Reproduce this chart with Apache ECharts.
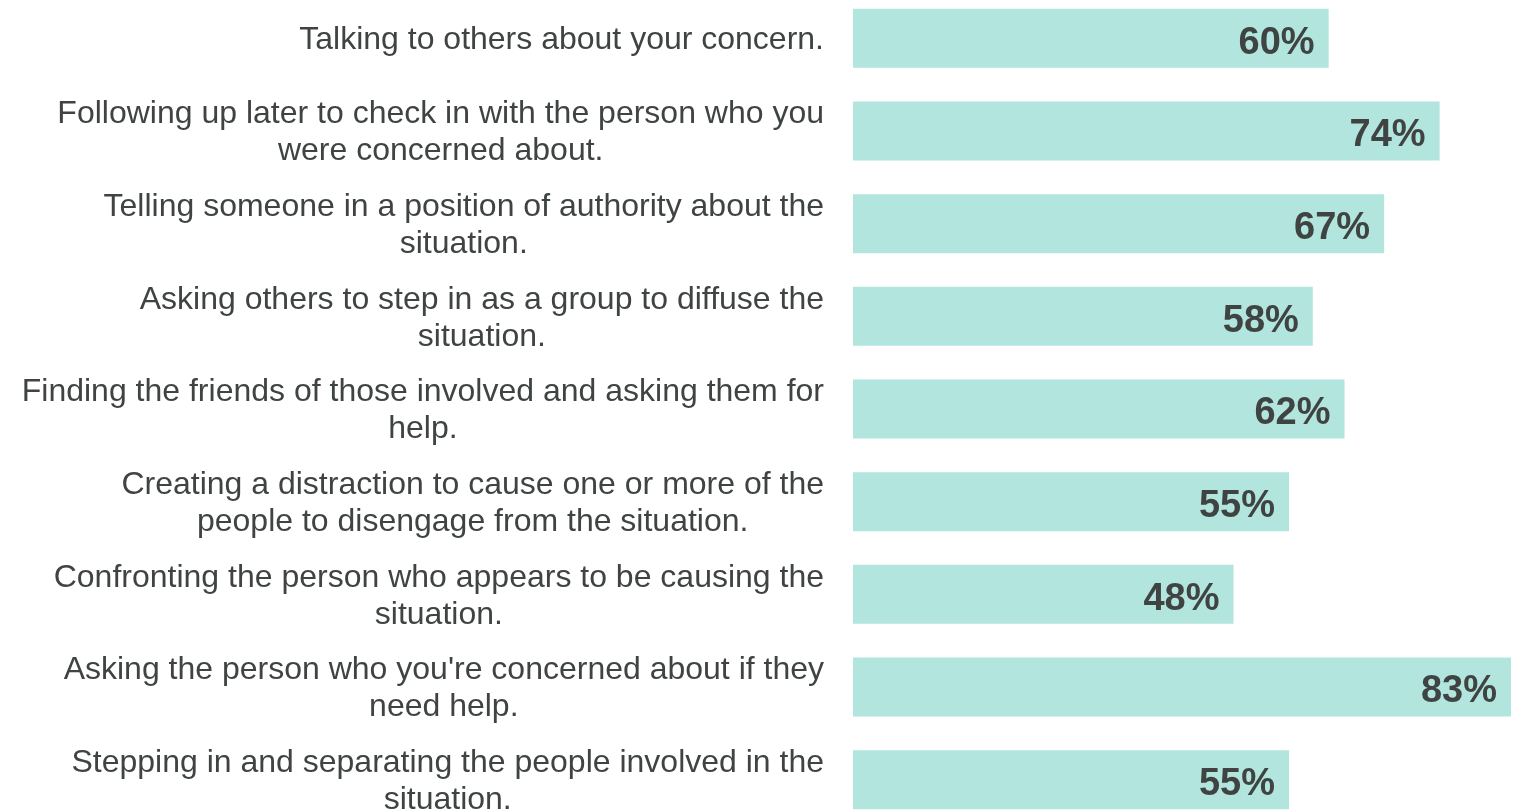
<!DOCTYPE html>
<html>
<head>
<meta charset="utf-8">
<script src="https://cdn.jsdelivr.net/npm/echarts@6/dist/echarts.min.js"></script>
<style>
  html, body { margin: 0; padding: 0; background: #ffffff; }
  #chart { width: 1527px; height: 811px; }
</style>
</head>
<body>
<div id="chart"></div>
<script>
// Bystander actions and share of respondents who would take each one
const categories = [
  "Talking to others about your concern.",
  "Following up later to check in with the person who you\nwere concerned about.",
  "Telling someone in a position of authority about the\nsituation.",
  "Asking others to step in as a group to diffuse the\nsituation.",
  "Finding the friends of those involved and asking them for\nhelp.",
  "Creating a distraction to cause one or more of the\npeople to disengage from the situation.",
  "Confronting the person who appears to be causing the\nsituation.",
  "Asking the person who you're concerned about if they\nneed help.",
  "Stepping in and separating the people involved in the\nsituation."
];
const values = [60, 74, 67, 58, 62, 55, 48, 83, 55];

const textColor = '#3f4443';
const barColor = '#b2e5de';
const fontFamily = "Arial, 'Liberation Sans', sans-serif";

const chart = echarts.init(document.getElementById('chart'), null, { renderer: 'canvas' });

chart.setOption({
  animation: false,
  grid: {
    left: 853, right: 16, top: -8, height: 834,
    containLabel: false,
    outerBoundsMode: 'none'
  },
  xAxis: {
    type: 'value',
    min: 0,
    max: 83,
    show: false
  },
  yAxis: {
    type: 'category',
    inverse: true,
    data: categories,
    axisLine: { show: false },
    axisTick: { show: false },
    splitLine: { show: false },
    axisLabel: {
      align: 'right',
      margin: 29,
      padding: [4, 0, 0, 0],
      color: textColor,
      fontFamily: fontFamily,
      fontSize: 32,
      lineHeight: 37,
      // each line is centred within the right-aligned label block
      formatter: function (v) {
        return v.split('\n').map(function (s) { return '{c|' + s + '}'; }).join('\n');
      },
      rich: {
        c: {
          align: 'center',
          color: textColor,
          fontFamily: fontFamily,
          fontSize: 32,
          lineHeight: 37
        }
      }
    }
  },
  series: [{
    type: 'bar',
    data: values,
    barWidth: 59,
    itemStyle: { color: barColor },
    label: {
      show: true,
      position: 'insideRight',
      distance: 14,
      offset: [0, 5],
      color: textColor,
      fontFamily: fontFamily,
      fontWeight: 'bold',
      fontSize: 38,
      formatter: '{c}%'
    }
  }]
});
</script>
</body>
</html>
